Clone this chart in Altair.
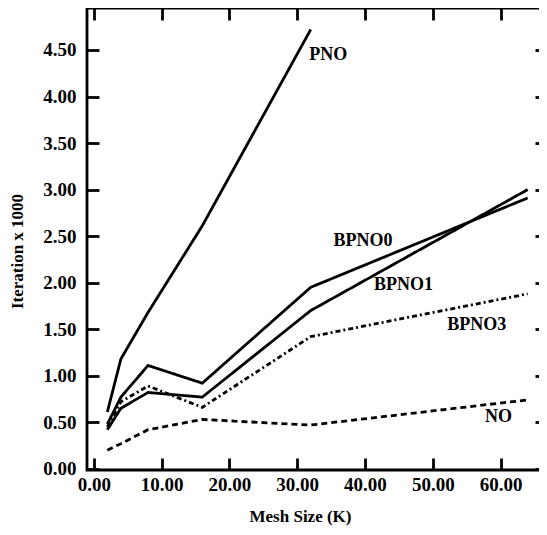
import altair as alt
import pandas as pd

mesh = [2, 4, 8, 16, 32, 64]
pno = [0.61, 1.18, 1.68, 2.61, 4.72]
bpno0 = [0.48, 0.77, 1.11, 0.92, 1.95, 2.91]
bpno1 = [0.42, 0.65, 0.82, 0.77, 1.70, 3.00]
bpno3 = [0.45, 0.72, 0.89, 0.66, 1.42, 1.88]
no = [0.20, 0.27, 0.42, 0.53, 0.47, 0.74]

series_names = ["PNO", "BPNO0", "BPNO1", "BPNO3", "NO"]
label_x = [34.6, 39.7, 45.7, 56.5, 59.7]
label_y = [4.45, 2.45, 1.97, 1.545, 0.56]

x_ticks = [0, 10, 20, 30, 40, 50, 60]
y_ticks = [0, 0.5, 1.0, 1.5, 2.0, 2.5, 3.0, 3.5, 4.0, 4.5]

rows = []
for name, vals in zip(series_names, [pno, bpno0, bpno1, bpno3, no]):
    for m, v in zip(mesh, vals):
        rows.append({"series": name, "mesh": m, "iter": v})
df = pd.DataFrame(rows)
labels = pd.DataFrame({"series": series_names, "lx": label_x, "ly": label_y})

FONT = "Liberation Serif"
xscale = alt.Scale(domain=[-1, 66.85], nice=False, zero=False)
yscale = alt.Scale(domain=[-0.013, 4.951], nice=False, zero=False)

dash_scale = alt.Scale(
    domain=series_names,
    range=[[1, 0], [1, 0], [1, 0], [5, 3, 2, 3], [6, 4]],
)

lines = alt.Chart(df).mark_line(color="black", strokeWidth=2.8, strokeCap="butt").encode(
    x=alt.X("mesh:Q", scale=xscale,
            axis=alt.Axis(orient="bottom", values=x_ticks, format=".2f",
                          title="Mesh Size (K)", labelPadding=5,
                          titlePadding=14, titleX=213)),
    y=alt.Y("iter:Q", scale=yscale,
            axis=alt.Axis(orient="left", values=y_ticks, format=".2f",
                          title="Iteration x 1000", labelPadding=11,
                          titlePadding=16, titleY=243)),
    strokeDash=alt.StrokeDash("series:N", scale=dash_scale, legend=None),
    detail="series:N",
)

frame_axes = alt.Chart(df).mark_point(opacity=0).encode(
    x=alt.X("mesh:Q", scale=xscale,
            axis=alt.Axis(orient="top", values=x_ticks, labels=False, title=None)),
    y=alt.Y("iter:Q", scale=yscale,
            axis=alt.Axis(orient="right", values=y_ticks, labels=False, title=None)),
)

texts = alt.Chart(labels).mark_text(
    font=FONT, fontSize=18, fontWeight="bold", color="black"
).encode(
    x=alt.X("lx:Q", scale=xscale, axis=None),
    y=alt.Y("ly:Q", scale=yscale, axis=None),
    text="series:N",
)

chart = alt.layer(lines, frame_axes, texts).resolve_axis(
    x="independent", y="independent"
).properties(
    width=460, height=462,
    autosize=alt.AutoSizeParams(type="none"),
    padding={"left": 79, "top": 0, "right": -8, "bottom": 56},
    background="white",
).configure_view(
    stroke="black", strokeWidth=2.8
).configure_axis(
    domain=False, grid=False, offset=-12, tickSize=12, tickWidth=2.8,
    tickColor="black", labelColor="black", titleColor="black",
    labelFont=FONT, labelFontSize=19, labelFontWeight="bold",
    titleFont=FONT, titleFontSize=17, titleFontWeight="bold",
    labelFlush=False, labelOverlap=False,
)

chart.save("out.html", embed_options={"renderer": "svg", "actions": False})
